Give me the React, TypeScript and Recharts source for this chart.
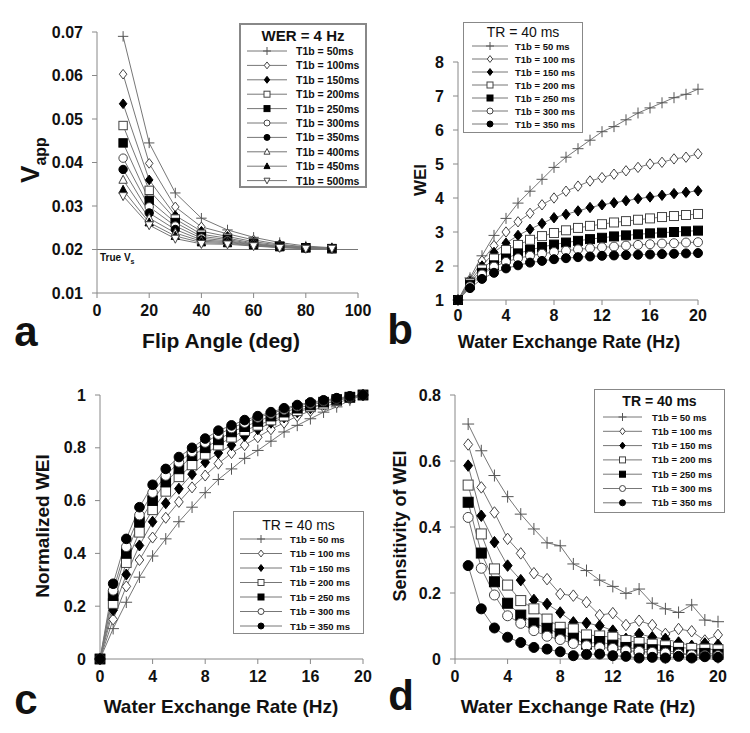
import React from "react";
import { LineChart, Line, XAxis, YAxis, ReferenceLine } from "recharts";

const FONT = '"Liberation Sans", Arial, Helvetica, sans-serif';

// ---- panel a: apparent volume vs flip angle (WER = 4 Hz)
const flipAngles = [10, 20, 30, 40, 50, 60, 70, 80, 90];
const t1bLabelsA = ["50ms", "100ms", "150ms", "200ms", "250ms", "300ms", "350ms", "400ms", "450ms", "500ms"];
const a50 = [0.069, 0.0445, 0.033, 0.0272, 0.0245, 0.0228, 0.0216, 0.0208, 0.0204];
const a100 = [0.0603, 0.0398, 0.0298, 0.0252, 0.0236, 0.0222, 0.0212, 0.0206, 0.0203];
const a150 = [0.0535, 0.036, 0.0278, 0.0242, 0.023, 0.0218, 0.021, 0.0205, 0.0203];
const a200 = [0.0485, 0.0336, 0.027, 0.0235, 0.0226, 0.0215, 0.0208, 0.0204, 0.0202];
const a250 = [0.0445, 0.0313, 0.0262, 0.023, 0.0223, 0.0213, 0.0207, 0.0204, 0.0202];
const a300 = [0.041, 0.0298, 0.0254, 0.0226, 0.022, 0.0212, 0.0206, 0.0203, 0.0202];
const a350 = [0.0384, 0.0284, 0.0246, 0.0222, 0.0218, 0.0211, 0.0206, 0.0203, 0.0202];
const a400 = [0.036, 0.0272, 0.0238, 0.0219, 0.0216, 0.021, 0.0205, 0.0203, 0.0202];
const a450 = [0.0337, 0.0262, 0.0231, 0.0216, 0.0214, 0.0209, 0.0205, 0.0203, 0.0202];
const a500 = [0.0323, 0.0256, 0.0225, 0.0213, 0.0212, 0.0208, 0.0204, 0.0202, 0.0202];

// ---- panels b, c, d: water exchange rate sweeps (TR = 40 ms)
const werB = [0, 1, 2, 3, 4, 5, 6, 7, 8, 9, 10, 11, 12, 13, 14, 15, 16, 17, 18, 19, 20];
const werD = [1, 2, 3, 4, 5, 6, 7, 8, 9, 10, 11, 12, 13, 14, 15, 16, 17, 18, 19, 20];
const t1bLabels = ["50 ms", "100 ms", "150 ms", "200 ms", "250 ms", "300 ms", "350 ms"];

const b50 = [1, 1.65, 2.3, 2.9, 3.4, 3.85, 4.2, 4.55, 4.9, 5.2, 5.45, 5.7, 5.95, 6.1, 6.3, 6.5, 6.65, 6.8, 6.95, 7.05, 7.2];
const b100 = [1, 1.6, 2.15, 2.6, 3.0, 3.3, 3.55, 3.8, 4.0, 4.2, 4.35, 4.5, 4.6, 4.7, 4.8, 4.9, 5.0, 5.05, 5.15, 5.2, 5.3];
const b150 = [1, 1.55, 2.0, 2.4, 2.67, 2.9, 3.08, 3.25, 3.42, 3.52, 3.62, 3.72, 3.8, 3.86, 3.92, 3.98, 4.03, 4.08, 4.13, 4.17, 4.21];
const b200 = [1, 1.5, 1.9, 2.22, 2.47, 2.62, 2.77, 2.88, 2.97, 3.05, 3.12, 3.18, 3.23, 3.28, 3.32, 3.36, 3.4, 3.44, 3.47, 3.5, 3.53];
const b250 = [1, 1.45, 1.8, 2.02, 2.22, 2.37, 2.47, 2.56, 2.63, 2.69, 2.74, 2.79, 2.83, 2.87, 2.9, 2.93, 2.96, 2.98, 3.0, 3.02, 3.04];
const b300 = [1, 1.4, 1.75, 1.98, 2.12, 2.23, 2.3, 2.36, 2.41, 2.45, 2.49, 2.52, 2.55, 2.57, 2.6, 2.62, 2.64, 2.66, 2.67, 2.69, 2.7];
const b350 = [1, 1.35, 1.62, 1.8, 1.93, 2.02, 2.1, 2.15, 2.2, 2.23, 2.26, 2.28, 2.3, 2.31, 2.32, 2.33, 2.34, 2.35, 2.36, 2.37, 2.38];

const c50 = [0, 0.115, 0.215, 0.31, 0.39, 0.455, 0.52, 0.575, 0.63, 0.68, 0.72, 0.76, 0.79, 0.825, 0.86, 0.885, 0.91, 0.935, 0.955, 0.98, 1.0];
const c100 = [0, 0.15, 0.275, 0.375, 0.46, 0.535, 0.595, 0.65, 0.695, 0.74, 0.78, 0.81, 0.84, 0.87, 0.895, 0.92, 0.94, 0.955, 0.97, 0.985, 1.0];
const c150 = [0, 0.185, 0.32, 0.43, 0.52, 0.59, 0.645, 0.7, 0.745, 0.78, 0.81, 0.845, 0.87, 0.895, 0.915, 0.935, 0.95, 0.965, 0.98, 0.99, 1.0];
const c200 = [0, 0.21, 0.365, 0.48, 0.565, 0.635, 0.69, 0.735, 0.775, 0.81, 0.84, 0.865, 0.885, 0.905, 0.92, 0.94, 0.955, 0.965, 0.978, 0.99, 1.0];
const c250 = [0, 0.24, 0.4, 0.52, 0.6, 0.67, 0.72, 0.77, 0.8, 0.83, 0.86, 0.88, 0.9, 0.92, 0.935, 0.95, 0.962, 0.973, 0.983, 0.992, 1.0];
const c300 = [0, 0.26, 0.425, 0.545, 0.63, 0.695, 0.745, 0.785, 0.82, 0.85, 0.875, 0.895, 0.915, 0.93, 0.945, 0.958, 0.968, 0.977, 0.986, 0.993, 1.0];
const c350 = [0, 0.285, 0.455, 0.575, 0.66, 0.72, 0.765, 0.8, 0.835, 0.865, 0.885, 0.905, 0.92, 0.935, 0.95, 0.962, 0.972, 0.98, 0.988, 0.995, 1.0];

const d50 = [0.712, 0.631, 0.556, 0.492, 0.439, 0.394, 0.352, 0.343, 0.288, 0.268, 0.239, 0.22, 0.199, 0.212, 0.169, 0.152, 0.141, 0.164, 0.118, 0.113];
const d100 = [0.65, 0.52, 0.444, 0.364, 0.32, 0.26, 0.242, 0.197, 0.192, 0.172, 0.133, 0.139, 0.103, 0.116, 0.103, 0.076, 0.091, 0.084, 0.056, 0.073];
const d150 = [0.586, 0.434, 0.354, 0.283, 0.239, 0.179, 0.167, 0.141, 0.111, 0.109, 0.101, 0.086, 0.061, 0.076, 0.066, 0.061, 0.05, 0.04, 0.047, 0.043];
const d200 = [0.527, 0.379, 0.273, 0.224, 0.177, 0.152, 0.121, 0.096, 0.091, 0.073, 0.07, 0.066, 0.056, 0.05, 0.045, 0.04, 0.035, 0.032, 0.03, 0.028];
const d250 = [0.475, 0.321, 0.234, 0.169, 0.133, 0.109, 0.093, 0.076, 0.063, 0.045, 0.053, 0.042, 0.035, 0.03, 0.028, 0.025, 0.02, 0.012, 0.017, 0.014];
const d300 = [0.429, 0.275, 0.194, 0.131, 0.108, 0.086, 0.069, 0.059, 0.047, 0.04, 0.035, 0.032, 0.025, 0.023, 0.02, 0.018, 0.015, 0.012, 0.01, 0.01];
const d350 = [0.283, 0.152, 0.094, 0.066, 0.05, 0.035, 0.03, 0.022, 0.01, 0.014, 0.015, 0.01, 0.008, 0.003, 0.005, 0.003, 0.008, 0.003, 0.007, 0.005];

type Shape =
  | "plus"
  | "diamondOpen"
  | "diamond"
  | "squareOpen"
  | "square"
  | "circleOpen"
  | "circle"
  | "triangleOpen"
  | "triangle"
  | "triangleDownOpen";

const SHAPES: Shape[] = [
  "plus",
  "diamondOpen",
  "diamond",
  "squareOpen",
  "square",
  "circleOpen",
  "circle",
  "triangleOpen",
  "triangle",
  "triangleDownOpen",
];

function Marker({ cx, cy, shape, s }: { cx: number; cy: number; shape: Shape; s: number }) {
  const edge = "#444";
  const open = { fill: "#fff", stroke: edge, strokeWidth: 1 };
  const solid = { fill: "#000", stroke: "#000", strokeWidth: 1 };
  switch (shape) {
    case "plus":
      return (
        <g stroke="#555" strokeWidth={1}>
          <line x1={cx - s - 1} y1={cy} x2={cx + s + 1} y2={cy} />
          <line x1={cx} y1={cy - s - 1} x2={cx} y2={cy + s + 1} />
        </g>
      );
    case "diamondOpen":
    case "diamond": {
      const w = s * 0.9;
      const h = s * 1.15;
      const pts = `${cx},${cy - h} ${cx + w},${cy} ${cx},${cy + h} ${cx - w},${cy}`;
      return <polygon points={pts} {...(shape === "diamond" ? solid : open)} />;
    }
    case "squareOpen":
    case "square":
      return <rect x={cx - s} y={cy - s} width={2 * s} height={2 * s} {...(shape === "square" ? solid : open)} />;
    case "circleOpen":
    case "circle":
      return <circle cx={cx} cy={cy} r={s} {...(shape === "circle" ? solid : open)} />;
    case "triangleOpen":
    case "triangle": {
      const pts = `${cx},${cy - s * 1.1} ${cx + s},${cy + s * 0.8} ${cx - s},${cy + s * 0.8}`;
      return <polygon points={pts} {...(shape === "triangle" ? solid : open)} />;
    }
    case "triangleDownOpen": {
      const pts = `${cx},${cy + s * 1.1} ${cx + s},${cy - s * 0.8} ${cx - s},${cy - s * 0.8}`;
      return <polygon points={pts} {...open} />;
    }
  }
  return null;
}

function buildRows(xs: number[], series: number[][]) {
  return xs.map((x, i) => {
    const row: Record<string, number> = { x };
    series.forEach((s, j) => {
      row["s" + j] = s[i];
    });
    return row;
  });
}

const rowsA = buildRows(flipAngles, [a50, a100, a150, a200, a250, a300, a350, a400, a450, a500]);
const rowsB = buildRows(werB, [b50, b100, b150, b200, b250, b300, b350]);
const rowsC = buildRows(werB, [c50, c100, c150, c200, c250, c300, c350]);
const rowsD = buildRows(werD, [d50, d100, d150, d200, d250, d300, d350]);

const tickStyle = { fill: "#111", fontSize: 16, fontWeight: 700, fontFamily: FONT };
const axisProps = {
  stroke: "#888",
  tick: tickStyle,
  tickSize: 5,
  axisLine: { stroke: "#888" },
  tickLine: { stroke: "#888" },
};

function seriesLines(count: number, size: number) {
  return Array.from({ length: count }, (_, j) => (
    <Line
      key={"s" + j}
      type="linear"
      dataKey={"s" + j}
      stroke="#777"
      strokeWidth={1}
      isAnimationActive={false}
      dot={(p: any) => <Marker key={`m${j}-${p.index}`} cx={p.cx} cy={p.cy} shape={SHAPES[j]} s={size} />}
    />
  ));
}

function LegendBox(props: {
  left: number;
  top: number;
  width: number;
  height: number;
  title: string;
  titleBold: boolean;
  titleSize: number;
  titleY: number;
  labels: string[];
  rowY: number;
  rowGap: number;
  lineX1: number;
  lineX2: number;
  textX: number;
  fontSize: number;
  border: number;
}) {
  const p = props;
  return (
    <svg
      width={p.width}
      height={p.height}
      style={{ position: "absolute", left: p.left, top: p.top, overflow: "visible" }}
    >
      <rect
        x={p.border / 2}
        y={p.border / 2}
        width={p.width - p.border}
        height={p.height - p.border}
        fill="#fff"
        stroke="#888"
        strokeWidth={p.border}
      />
      <text
        x={p.width / 2}
        y={p.titleY}
        textAnchor="middle"
        dominantBaseline="central"
        fontFamily={FONT}
        fontWeight={p.titleBold ? 700 : 400}
        fontSize={p.titleSize}
        fill="#111"
      >
        {p.title}
      </text>
      {p.labels.map((lab, j) => {
        const y = p.rowY + j * p.rowGap;
        return (
          <g key={lab}>
            <line x1={p.lineX1} y1={y} x2={p.lineX2} y2={y} stroke="#777" strokeWidth={1} />
            <Marker cx={(p.lineX1 + p.lineX2) / 2} cy={y} shape={SHAPES[j]} s={3} />
            <text
              x={p.textX}
              y={y}
              dominantBaseline="central"
              fontFamily={FONT}
              fontWeight={700}
              fontSize={p.fontSize}
              fill="#111"
            >
              {"T1b = " + lab}
            </text>
          </g>
        );
      })}
    </svg>
  );
}

function Title({
  x,
  y,
  size,
  rotate,
  children,
}: {
  x: number;
  y: number;
  size: number;
  rotate?: boolean;
  children: React.ReactNode;
}) {
  return (
    <div
      style={{
        position: "absolute",
        left: x,
        top: y,
        transform: `translate(-50%, -50%)${rotate ? " rotate(-90deg)" : ""}`,
        fontFamily: FONT,
        fontWeight: 700,
        fontSize: size,
        lineHeight: 1,
        whiteSpace: "nowrap",
        color: "#111",
      }}
    >
      {children}
    </div>
  );
}

const box = (left: number, top: number): React.CSSProperties => ({ position: "absolute", left, top });

export default function App() {
  return (
    <div style={{ position: "absolute", left: 0, top: 0, width: 750, height: 733, background: "#fff", overflow: "hidden" }}>
      {/* a */}
      <div style={box(0, 0)}>
        <LineChart width={375} height={366} data={rowsA} margin={{ top: 32, right: 17, left: 37, bottom: 43 }}>
          <XAxis
            dataKey="x"
            type="number"
            domain={[0, 100]}
            ticks={[0, 20, 40, 60, 80, 100]}
            height={30}
            tickMargin={7}
            {...axisProps}
          />
          <YAxis
            type="number"
            domain={[0.01, 0.07]}
            ticks={[0.01, 0.02, 0.03, 0.04, 0.05, 0.06, 0.07]}
            tickFormatter={(v: number) => v.toFixed(2)}
            width={60}
            tickMargin={9}
            {...axisProps}
          />
          <ReferenceLine y={0.02} stroke="#777" strokeWidth={1} />
          {seriesLines(10, 4.2)}
        </LineChart>
      </div>
      <div style={{ ...box(100, 252), fontFamily: FONT, fontWeight: 700, fontSize: 10, color: "#111" }}>
        True V<sub style={{ fontSize: 7 }}>s</sub>
      </div>
      <LegendBox
        left={239}
        top={23}
        width={128}
        height={165}
        title="WER = 4 Hz"
        titleBold
        titleSize={15}
        titleY={12}
        labels={t1bLabelsA}
        rowY={28}
        rowGap={14.4}
        lineX1={8}
        lineX2={48}
        textX={57}
        fontSize={10.5}
        border={2}
      />
      <Title x={33} y={160} size={26} rotate>
        V<sub style={{ fontSize: 16 }}>app</sub>
      </Title>
      <Title x={221} y={340} size={21}>
        Flip Angle (deg)
      </Title>
      <Title x={26} y={332} size={42}>
        a
      </Title>

      {/* b */}
      <div style={box(375, 0)}>
        <LineChart width={375} height={366} data={rowsB} margin={{ top: 62, right: 52, left: 43, bottom: 36 }}>
          <XAxis
            dataKey="x"
            type="number"
            domain={[0, 20]}
            ticks={[0, 4, 8, 12, 16, 20]}
            height={30}
            tickMargin={5}
            {...axisProps}
          />
          <YAxis
            type="number"
            domain={[1, 8]}
            ticks={[1, 2, 3, 4, 5, 6, 7, 8]}
            width={40}
            tickMargin={9}
            {...axisProps}
          />
          {seriesLines(7, 4.5)}
        </LineChart>
      </div>
      <LegendBox
        left={463}
        top={22}
        width={120}
        height={111}
        title="TR = 40 ms"
        titleBold={false}
        titleSize={14}
        titleY={10}
        labels={t1bLabels}
        rowY={24}
        rowGap={13}
        lineX1={9}
        lineX2={45}
        textX={52}
        fontSize={9.5}
        border={1}
      />
      <Title x={420} y={180} size={17} rotate>
        WEI
      </Title>
      <Title x={569} y={342} size={18}>
        Water Exchange Rate (Hz)
      </Title>
      <Title x={400} y={330} size={42}>
        b
      </Title>

      {/* c */}
      <div style={box(0, 366)}>
        <LineChart width={375} height={367} data={rowsC} margin={{ top: 29, right: 12, left: 50, bottom: 44 }}>
          <XAxis
            dataKey="x"
            type="number"
            domain={[0, 20]}
            ticks={[0, 4, 8, 12, 16, 20]}
            height={30}
            tickMargin={7}
            {...axisProps}
          />
          <YAxis
            type="number"
            domain={[0, 1]}
            ticks={[0, 0.2, 0.4, 0.6, 0.8, 1]}
            tickFormatter={(v: number) => String(v)}
            width={50}
            tickMargin={9}
            {...axisProps}
          />
          {seriesLines(7, 4.8)}
        </LineChart>
      </div>
      <LegendBox
        left={233}
        top={511}
        width={131}
        height={123}
        title="TR = 40 ms"
        titleBold={false}
        titleSize={14}
        titleY={14}
        labels={t1bLabels}
        rowY={28}
        rowGap={14.5}
        lineX1={7}
        lineX2={49}
        textX={57}
        fontSize={9.5}
        border={1}
      />
      <Title x={42} y={526} size={19} rotate>
        Normalized WEI
      </Title>
      <Title x={221} y={706} size={19}>
        Water Exchange Rate (Hz)
      </Title>
      <Title x={26} y={700} size={42}>
        c
      </Title>

      {/* d */}
      <div style={box(375, 366)}>
        <LineChart width={375} height={367} data={rowsD} margin={{ top: 29, right: 32, left: 40, bottom: 44 }}>
          <XAxis
            dataKey="x"
            type="number"
            domain={[0, 20]}
            ticks={[0, 4, 8, 12, 16, 20]}
            height={30}
            tickMargin={7}
            {...axisProps}
          />
          <YAxis
            type="number"
            domain={[0, 0.8]}
            ticks={[0, 0.2, 0.4, 0.6, 0.8]}
            tickFormatter={(v: number) => String(v)}
            width={40}
            tickMargin={9}
            {...axisProps}
          />
          {seriesLines(7, 5)}
        </LineChart>
      </div>
      <LegendBox
        left={594}
        top={389}
        width={131}
        height={124}
        title="TR = 40 ms"
        titleBold
        titleSize={14}
        titleY={12}
        labels={t1bLabels}
        rowY={28}
        rowGap={14.3}
        lineX1={9}
        lineX2={48}
        textX={58}
        fontSize={9.5}
        border={1}
      />
      <Title x={400} y={526} size={18} rotate>
        Sensitivity of WEI
      </Title>
      <Title x={578} y={706} size={19}>
        Water Exchange Rate (Hz)
      </Title>
      <Title x={401} y={696} size={42}>
        d
      </Title>
    </div>
  );
}
